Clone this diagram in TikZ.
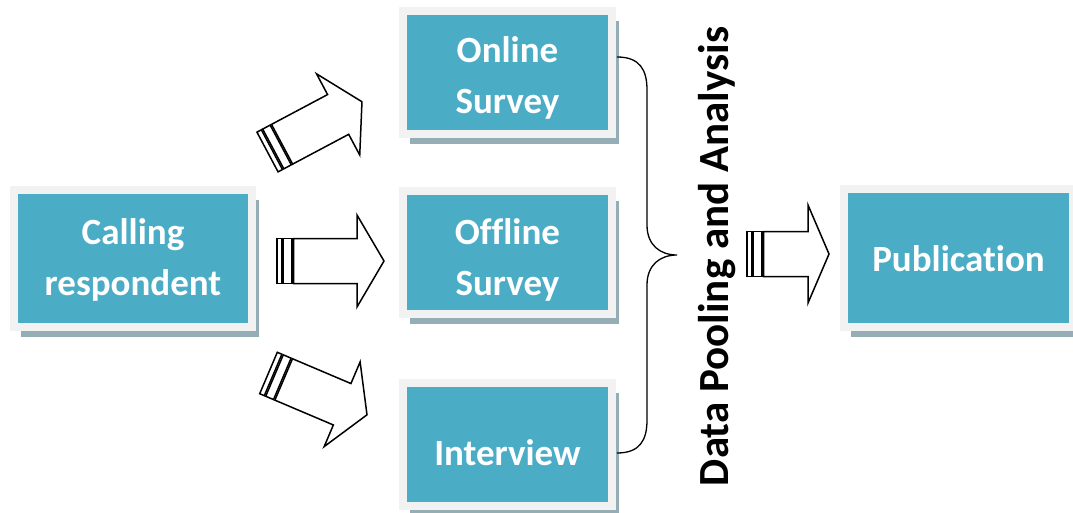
\documentclass[tikz,border=0pt]{standalone}
\usepackage{fontspec}
\setmainfont[Ligatures=NoCommon]{Carlito}
\usetikzlibrary{shadows}
\definecolor{boxteal}{HTML}{4BACC6}
\definecolor{boxframe}{HTML}{F2F2F2}
\definecolor{boxshade}{HTML}{95AEB6}

\tikzset{
  stage/.style={rectangle, fill=boxteal, draw=boxframe, line width=8pt,
    inner sep=0pt,
    drop shadow={shadow xshift=7pt, shadow yshift=-10pt, fill=boxshade, opacity=1}},
  stagetext/.style={text=white, font=\bfseries\fontsize{37}{51}\selectfont,
    align=center, inner sep=0pt},
  outline/.style={draw=black, line width=1.5pt, fill=white, line join=miter},
  % striped block arrow: #1 = end of the shaft, #2 = tip, #3 = half height of the head
  pics/barrow/.style n args={3}{code={
    \path[outline] (0,-22.5) rectangle (5,22.5);
    \path[outline] (6.5,-22.5) rectangle (15,22.5);
    \path[outline] (16.5,-22.5) -- (#1,-22.5) -- (#1,-#3) -- (#2,0)
      -- (#1,#3) -- (#1,22.5) -- (16.5,22.5) -- cycle;
  }}
}

\begin{document}
\begin{tikzpicture}[x=1pt,y=-1pt]
\useasboundingbox (0,0) rectangle (1073,513);

% process stages
\node[stage, minimum width=238pt, minimum height=137pt] (call) at (133,258.5) {};
\node[stage, minimum width=209pt, minimum height=123pt] (online) at (507.5,73) {};
\node[stage, minimum width=209pt, minimum height=123pt] (offline) at (507.5,252.5) {};
\node[stage, minimum width=209pt, minimum height=123pt] (interview) at (507.5,444) {};
\node[stage, minimum width=229pt, minimum height=138pt] (pub) at (958.5,258) {};

% stage captions
\node[stagetext] (callt) at ([yshift=-1pt]call.center) {Calling\\respondent};
\node[stagetext] (onlinet) at ([yshift=-5pt]online.center) {Online\\Survey};
\node[stagetext] (offlinet) at ([yshift=-7pt]offline.center) {Offline\\Survey};
\node[stagetext] (interviewt) at ([yshift=-9pt]interview.center) {Interview};
\node[stagetext] (pubt) at ([yshift=-1pt]pub.center) {Publication};

% block arrows from the call to the three survey channels
\coordinate (a1) at (267.5,152);
\coordinate (a2) at (277,261);
\coordinate (a3) at (268.5,373);
\coordinate (a4) at (747,254);
\pic[rotate=28] at (a1) {barrow={80}{107}{46}};
\pic at (a2) {barrow={80}{107}{46}};
\pic[rotate=-23] at (a3) {barrow={80}{107}{46}};
\pic at (a4) {barrow={61}{82}{49}};

% brace gathering the channels
\coordinate (bt) at (617,57);
\coordinate (bb) at (617,453);
\coordinate (btip) at (677,255);
\draw[line width=1.3pt] (bt) .. controls (640,57) and (647,70) .. (647,90)
  -- (647,225) .. controls (647,245) and (660,255) .. (btip)
  .. controls (660,255) and (647,265) .. (647,285)
  -- (647,420) .. controls (647,440) and (640,453) .. (bb);

\node[rotate=90, anchor=base, inner sep=0pt, font=\bfseries\fontsize{43}{50}\selectfont] (pool) at (728,256.5) {Data Pooling and Analysis};
\end{tikzpicture}
\end{document}
